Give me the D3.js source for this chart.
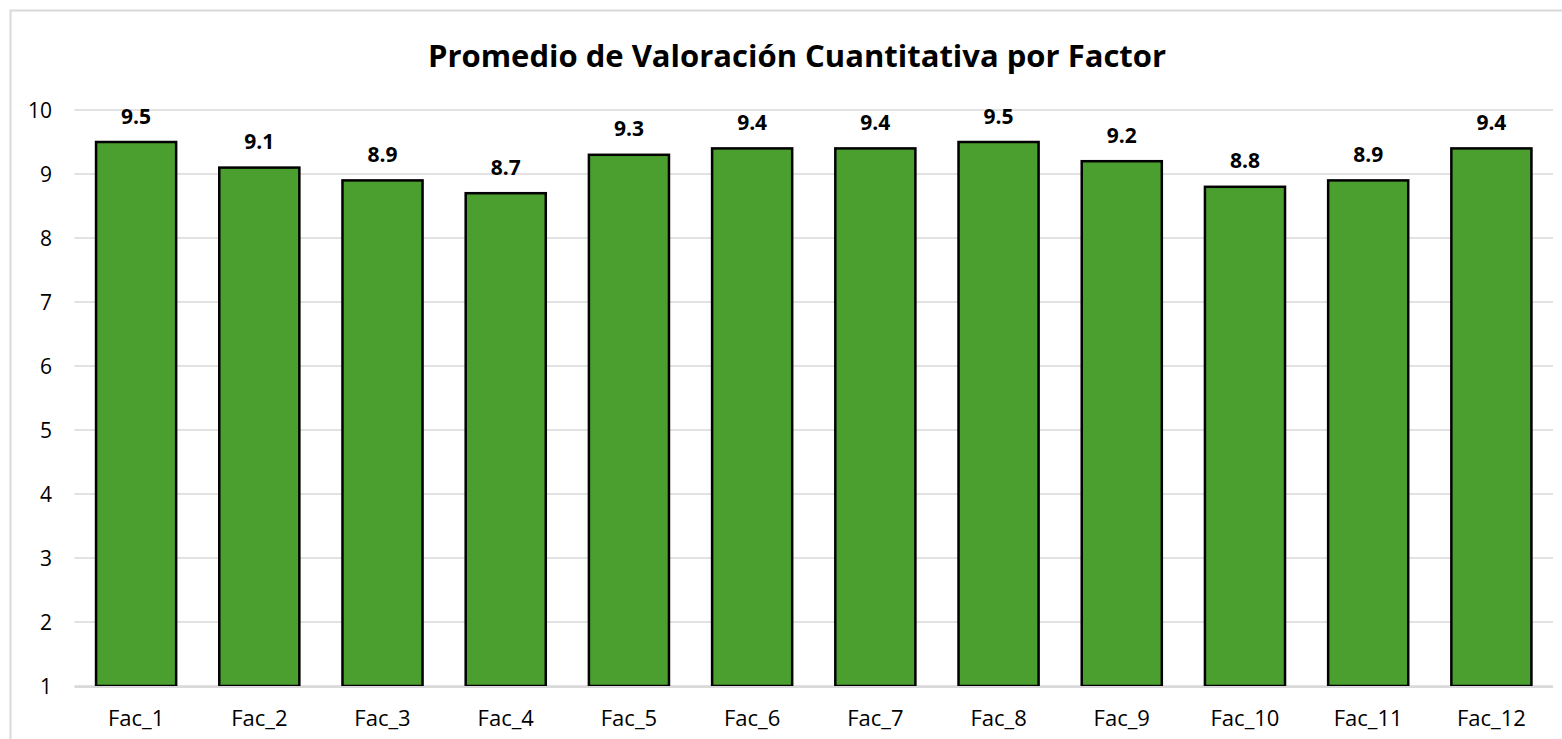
<!DOCTYPE html>
<html>
<head>
<meta charset="utf-8">
<script src="https://cdn.jsdelivr.net/npm/d3@7"></script>
<style>
  body { margin: 0; background: #fff; }
  svg { display: block; }
  text { font-family: "Open Sans", sans-serif; }
</style>
</head>
<body>
<svg width="1562" height="739"></svg>
<script>
const factors = ['Fac_1', 'Fac_2', 'Fac_3', 'Fac_4', 'Fac_5', 'Fac_6',
  'Fac_7', 'Fac_8', 'Fac_9', 'Fac_10', 'Fac_11', 'Fac_12'];
const averages = [9.5, 9.1, 8.9, 8.7, 9.3, 9.4, 9.4, 9.5, 9.2, 8.8, 8.9, 9.4];
const yTicks = [1, 2, 3, 4, 5, 6, 7, 8, 9, 10];
const title = 'Promedio de Valoración Cuantitativa por Factor';

const svg = d3.select('svg');

// chart frame
svg.append('rect')
  .attr('x', 10.5).attr('y', 10.5)
  .attr('width', 1600).attr('height', 800)
  .attr('fill', '#fff')
  .attr('stroke', '#d9d9d9')
  .attr('stroke-width', 2);

const x = d3.scaleBand()
  .domain(factors)
  .range([74.5, 1553])
  .paddingInner(0.35)
  .paddingOuter(0.175);

const y = d3.scaleLinear()
  .domain([1, 10])
  .range([686, 110]);

// gridlines
svg.append('g')
  .selectAll('line')
  .data(yTicks)
  .join('line')
  .attr('x1', 74.5).attr('x2', 1553)
  .attr('y1', d => y(d)).attr('y2', d => y(d))
  .attr('stroke', '#d9d9d9')
  .attr('stroke-width', 1.5);

// y labels
svg.append('g')
  .selectAll('text')
  .data(yTicks)
  .join('text')
  .attr('x', 52)
  .attr('y', d => y(d))
  .attr('dy', '0.36em')
  .attr('text-anchor', 'end')
  .attr('font-size', 21)
  .attr('fill', '#000')
  .text(d => d);

// bars
svg.append('g')
  .selectAll('rect')
  .data(averages)
  .join('rect')
  .attr('x', (d, i) => x(factors[i]))
  .attr('y', d => y(d))
  .attr('width', x.bandwidth())
  .attr('height', d => y(1) - y(d))
  .attr('fill', '#4a9f2f')
  .attr('stroke', '#000')
  .attr('stroke-width', 2.5);

// bottom baseline over bars
svg.append('line')
  .attr('x1', 74.5).attr('x2', 1553)
  .attr('y1', y(1) + 1).attr('y2', y(1) + 1)
  .attr('stroke', '#d9d9d9')
  .attr('stroke-width', 2);

// value labels
svg.append('g')
  .selectAll('text')
  .data(averages)
  .join('text')
  .attr('x', (d, i) => x(factors[i]) + x.bandwidth() / 2)
  .attr('y', d => y(d) - 26)
  .attr('dy', '0.36em')
  .attr('text-anchor', 'middle')
  .attr('font-size', 21)
  .attr('font-weight', 'bold')
  .attr('fill', '#000')
  .text(d => d.toFixed(1));

// x labels
svg.append('g')
  .selectAll('text')
  .data(factors)
  .join('text')
  .attr('x', d => x(d) + x.bandwidth() / 2)
  .attr('y', 718)
  .attr('dy', '0.36em')
  .attr('text-anchor', 'middle')
  .attr('font-size', 22)
  .attr('fill', '#000')
  .text(d => d);

// title
svg.append('text')
  .attr('x', 797)
  .attr('y', 56)
  .attr('dy', '0.36em')
  .attr('text-anchor', 'middle')
  .attr('font-size', 31)
  .attr('font-weight', 'bold')
  .attr('fill', '#000')
  .text(title);
</script>
</body>
</html>
